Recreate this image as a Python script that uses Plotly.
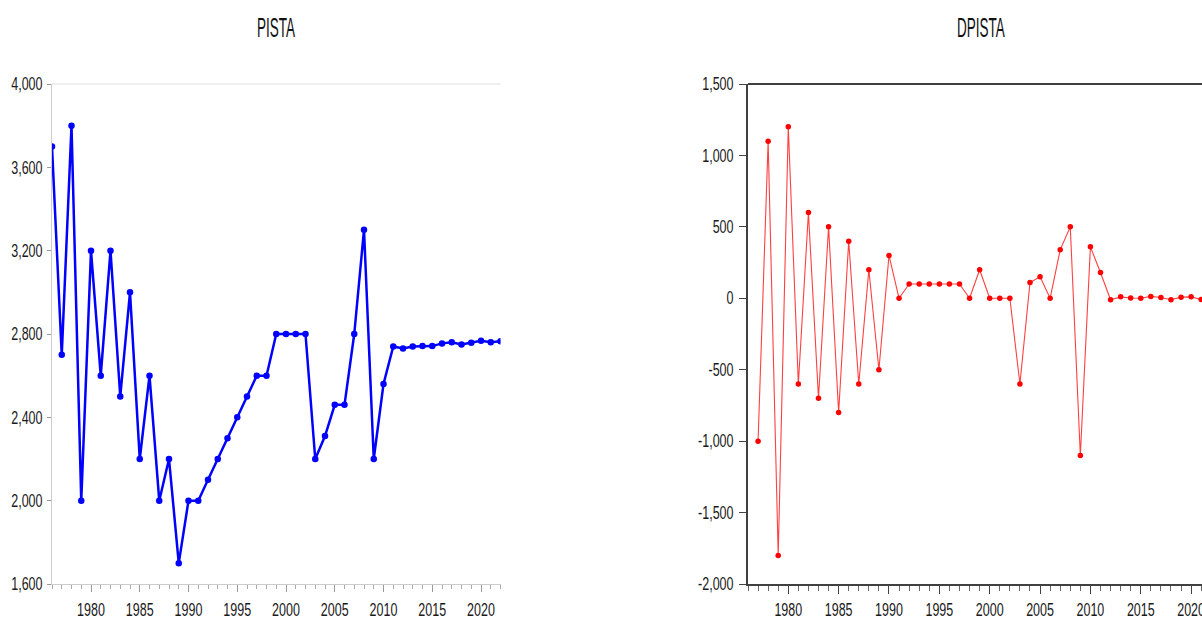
import plotly.graph_objects as go

years = list(range(1976, 2023))
pista = [3700, 2700, 3800, 2000, 3200, 2600, 3200, 2500, 3000, 2200,
         2600, 2000, 2200, 1700, 2000, 2000, 2100, 2200, 2300, 2400,
         2500, 2600, 2600, 2800, 2800, 2800, 2800, 2200, 2310, 2460,
         2460, 2800, 3300, 2200, 2560, 2740, 2730, 2740, 2742, 2742,
         2755, 2760, 2750, 2758, 2768, 2760, 2765]

dyears = list(range(1977, 2023))
dpista = [-1000, 1100, -1800, 1200, -600, 600, -700, 500, -800, 400,
          -600, 200, -500, 300, 0, 100, 100, 100, 100, 100,
          100, 0, 200, 0, 0, 0, -600, 110, 150, 0,
          340, 500, -1100, 360, 180, -10, 10, 2, 0, 13,
          5, -10, 8, 10, -8, 5]

left_yticks = [1600, 2000, 2400, 2800, 3200, 3600, 4000]
right_yticks = [-2000, -1500, -1000, -500, 0, 500, 1000, 1500]
xticks = [1980, 1985, 1990, 1995, 2000, 2005, 2010, 2015, 2020]

FONT = "Liberation Sans, Arial, sans-serif"

def fmt(v):
    s = f"{abs(v):,}"
    return ("-" + s) if v < 0 else s

fig = go.Figure()
fig.add_trace(go.Scatter(x=years, y=pista, mode="lines+markers",
                         line=dict(color="#0000FF", width=2.5),
                         marker=dict(color="#0000FF", size=6.5),
                         xaxis="x", yaxis="y", showlegend=False))
fig.add_trace(go.Scatter(x=dyears, y=dpista, mode="lines+markers",
                         line=dict(color="#FF4040", width=1.1),
                         marker=dict(color="#FF0000", size=5.5),
                         xaxis="x2", yaxis="y2", showlegend=False))

W, H = 1202, 619
ytop, ybot = 84, 584
ydom = [(H - ybot) / H, (H - ytop) / H]

tickfont = dict(family=FONT, size=12.5, color="#1a1a1a")

fig.update_layout(
    template="none",
    width=W, height=H,
    margin=dict(l=0, r=0, t=0, b=0, pad=0),
    paper_bgcolor="white", plot_bgcolor="white",
    font=dict(family=FONT),
    xaxis=dict(domain=[52 / W, 500.5 / W], range=[1976, 2022],
               tickvals=xticks, ticktext=[str(v) for v in xticks],
               ticks="outside", ticklen=7, tickwidth=1, tickcolor="#999999",
               minor=dict(dtick=1, tick0=1976, ticks="outside", ticklen=4, tickcolor="#aaaaaa"),
               showline=True, linecolor="#cccccc", linewidth=1, mirror=False,
               showgrid=False, zeroline=False, tickfont=tickfont,
               ticklabelstandoff=7, automargin=False, anchor="y"),
    yaxis=dict(domain=ydom, range=[1600, 4000],
               tickvals=left_yticks, ticktext=[fmt(v) for v in left_yticks],
               ticks="outside", ticklen=4, tickwidth=1, tickcolor="#999999",
               showline=True, linecolor="#cccccc", linewidth=1, mirror=False,
               showgrid=False, zeroline=False, tickfont=tickfont,
               ticklabelstandoff=2, automargin=False, anchor="x"),
    xaxis2=dict(domain=[748 / W, 1.0], range=[1976, 2021.08],
                tickvals=xticks, ticktext=[str(v) for v in xticks],
                ticks="outside", ticklen=8, tickwidth=1, tickcolor="#444444",
                minor=dict(dtick=1, tick0=1976, ticks="outside", ticklen=5, tickcolor="#666666"),
                showline=True, linecolor="#404040", linewidth=2, mirror=False,
                showgrid=False, zeroline=False, tickfont=tickfont,
                ticklabelstandoff=5, ticklabeloverflow="allow",
                automargin=False, anchor="y2"),
    yaxis2=dict(domain=ydom, range=[-2000, 1500],
                tickvals=right_yticks, ticktext=[fmt(v) for v in right_yticks],
                ticks="outside", ticklen=7, tickwidth=1, tickcolor="#444444",
                showline=True, linecolor="#404040", linewidth=2, mirror=False,
                showgrid=False, zeroline=False, tickfont=tickfont,
                ticklabelstandoff=3, automargin=False, anchor="x2"),
    shapes=[
        dict(type="line", xref="x domain", yref="y domain", x0=0, x1=1, y0=1, y1=1,
             line=dict(color="#dddddd", width=1)),
        dict(type="line", xref="x2 domain", yref="y2 domain", x0=0, x1=1, y0=1, y1=1,
             line=dict(color="#404040", width=2)),
    ],
    annotations=[
        dict(text="PISTA", x=276 / W, y=(H - 28) / H, xref="paper", yref="paper",
             xanchor="center", yanchor="middle", showarrow=False,
             font=dict(family=FONT, size=13.5, color="#111111")),
        dict(text="DPISTA", x=981 / W, y=(H - 28) / H, xref="paper", yref="paper",
             xanchor="center", yanchor="middle", showarrow=False,
             font=dict(family=FONT, size=13.5, color="#111111")),
    ],
)

post_js = """
document.body.style.margin = '0';
document.body.style.overflow = 'hidden';
function stretch(sel, k){
  document.querySelectorAll(sel).forEach(function(t){
    var b = t.getBBox(); var cy = b.y + b.height/2;
    var tr = t.getAttribute('transform') || '';
    t.setAttribute('transform', tr + ' translate(0,' + cy + ') scale(1,' + k + ') translate(0,' + (-cy) + ')');
  });
}
stretch('.xtick text, .ytick text, .x2tick text, .y2tick text', 1.45);
stretch('.annotation-text', 2.0);
"""

fig.write_html("out.html", config={"responsive": False, "displayModeBar": False},
               post_script=post_js)
